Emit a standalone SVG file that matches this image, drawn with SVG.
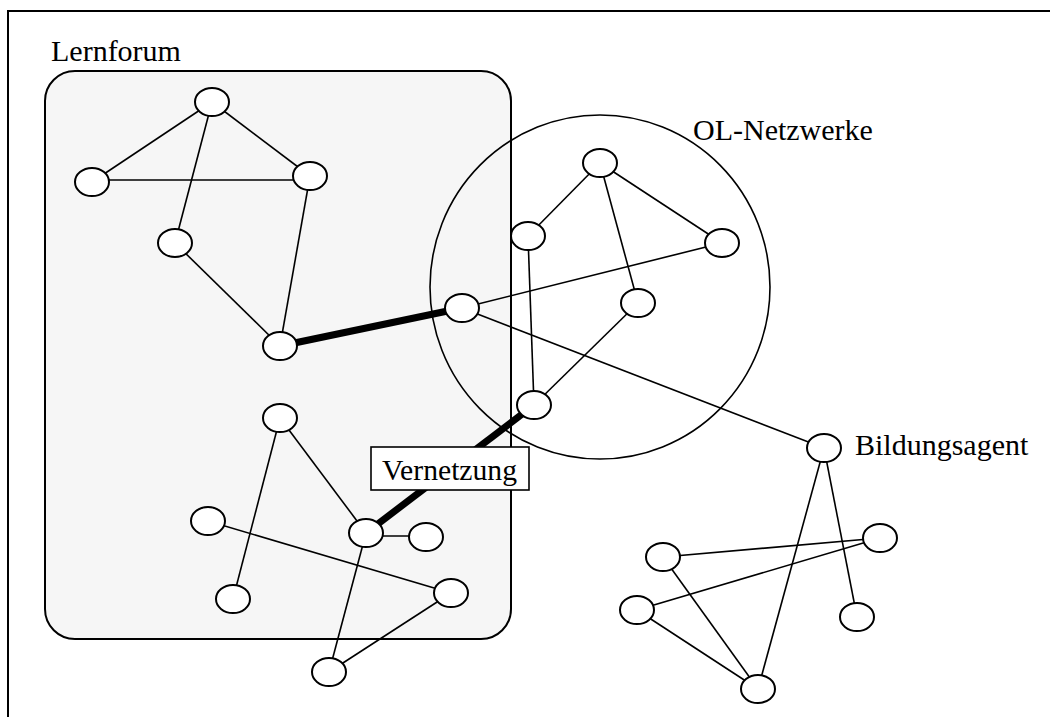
<svg xmlns="http://www.w3.org/2000/svg" width="1050" height="717" viewBox="0 0 1050 717">
<style>
text{font-family:'Liberation Serif','Times New Roman','DejaVu Serif',serif;font-size:30px;fill:#000}
.n{fill:#fff;stroke:#000;stroke-width:2}
.e{stroke:#000;stroke-width:1.6;fill:none}
.t{stroke:#000;stroke-width:7;fill:none}
</style>
<rect x="0" y="0" width="1050" height="717" fill="#fff"/>
<rect x="8" y="11" width="1060" height="720" fill="none" stroke="#000" stroke-width="2"/>
<g id="lernforum">
<rect x="45" y="71" width="466" height="568" rx="30" ry="30" fill="#f6f6f6" stroke="#000" stroke-width="2"/>
<text x="51" y="61" font-family="Liberation Serif, serif">Lernforum</text>
</g>
<g id="ol-netzwerke">
<ellipse cx="600" cy="287" rx="170" ry="172" fill="none" stroke="#000" stroke-width="1.6"/>
<text x="693" y="140" font-family="Liberation Serif, serif">OL-Netzwerke</text>
</g>
<g id="connectors">
<line class="e" x1="212" y1="102" x2="92" y2="182"/>
<line class="e" x1="212" y1="102" x2="310" y2="176"/>
<line class="e" x1="92" y1="180" x2="310" y2="180"/>
<line class="e" x1="212" y1="102" x2="175" y2="243"/>
<line class="e" x1="310" y1="176" x2="280" y2="346"/>
<line class="e" x1="175" y1="243" x2="280" y2="346"/>
<line class="t" x1="280" y1="346" x2="462" y2="308"/>
<line class="e" x1="600" y1="163" x2="528" y2="236"/>
<line class="e" x1="600" y1="163" x2="722" y2="243"/>
<line class="e" x1="600" y1="163" x2="638" y2="303"/>
<line class="e" x1="528" y1="236" x2="534" y2="405"/>
<line class="e" x1="638" y1="303" x2="534" y2="405"/>
<line class="e" x1="462" y1="308" x2="722" y2="243"/>
<line class="e" x1="462" y1="308" x2="824" y2="448"/>
<line class="t" x1="534" y1="405" x2="366" y2="533"/>
<line class="e" x1="280" y1="418" x2="233" y2="599"/>
<line class="e" x1="280" y1="418" x2="366" y2="533"/>
<line class="e" x1="366" y1="536" x2="426" y2="536"/>
<line class="e" x1="208" y1="521" x2="451" y2="593"/>
<line class="e" x1="366" y1="533" x2="329" y2="672"/>
<line class="e" x1="451" y1="593" x2="329" y2="672"/>
<line class="e" x1="824" y1="448" x2="758" y2="689"/>
<line class="e" x1="824" y1="448" x2="857" y2="617"/>
<line class="e" x1="663" y1="557" x2="880" y2="538"/>
<line class="e" x1="637" y1="610" x2="880" y2="538"/>
<line class="e" x1="663" y1="557" x2="758" y2="689"/>
<line class="e" x1="637" y1="610" x2="758" y2="689"/>
</g>
<g id="n1"><ellipse class="n" cx="212" cy="102" rx="17" ry="14"/></g>
<g id="n2"><ellipse class="n" cx="92" cy="182" rx="17" ry="14"/></g>
<g id="n3"><ellipse class="n" cx="310" cy="176" rx="17" ry="14"/></g>
<g id="n4"><ellipse class="n" cx="175" cy="243" rx="17" ry="14"/></g>
<g id="n5"><ellipse class="n" cx="280" cy="346" rx="17" ry="14"/></g>
<g id="n6"><ellipse class="n" cx="462" cy="308" rx="17" ry="14"/></g>
<g id="n7"><ellipse class="n" cx="600" cy="163" rx="17" ry="14"/></g>
<g id="n8"><ellipse class="n" cx="528" cy="236" rx="17" ry="14"/></g>
<g id="n9"><ellipse class="n" cx="722" cy="243" rx="17" ry="14"/></g>
<g id="n10"><ellipse class="n" cx="638" cy="303" rx="17" ry="14"/></g>
<g id="n11"><ellipse class="n" cx="534" cy="405" rx="17" ry="14"/></g>
<g id="n12"><ellipse class="n" cx="280" cy="418" rx="17" ry="14"/></g>
<g id="n13"><ellipse class="n" cx="366" cy="533" rx="17" ry="14"/></g>
<g id="n14"><ellipse class="n" cx="426" cy="537" rx="17" ry="14"/></g>
<g id="n15"><ellipse class="n" cx="208" cy="521" rx="17" ry="14"/></g>
<g id="n16"><ellipse class="n" cx="233" cy="599" rx="17" ry="14"/></g>
<g id="n17"><ellipse class="n" cx="451" cy="593" rx="17" ry="14"/></g>
<g id="n18"><ellipse class="n" cx="329" cy="672" rx="17" ry="14"/></g>
<g id="n19"><ellipse class="n" cx="824" cy="448" rx="17" ry="14"/></g>
<g id="n20"><ellipse class="n" cx="880" cy="538" rx="17" ry="14"/></g>
<g id="n21"><ellipse class="n" cx="663" cy="557" rx="17" ry="14"/></g>
<g id="n22"><ellipse class="n" cx="637" cy="610" rx="17" ry="14"/></g>
<g id="n23"><ellipse class="n" cx="857" cy="617" rx="17" ry="14"/></g>
<g id="n24"><ellipse class="n" cx="758" cy="689" rx="17" ry="14"/></g>
<g id="bildungsagent-label"><text x="855" y="455" font-family="Liberation Serif, serif">Bildungsagent</text></g>
<g id="vernetzung">
<rect x="371" y="447" width="158" height="43" fill="#fff" stroke="#000" stroke-width="1.6"/>
<text x="382" y="480" font-family="Liberation Serif, serif" textLength="135" lengthAdjust="spacingAndGlyphs">Vernetzung</text>
</g>
</svg>
